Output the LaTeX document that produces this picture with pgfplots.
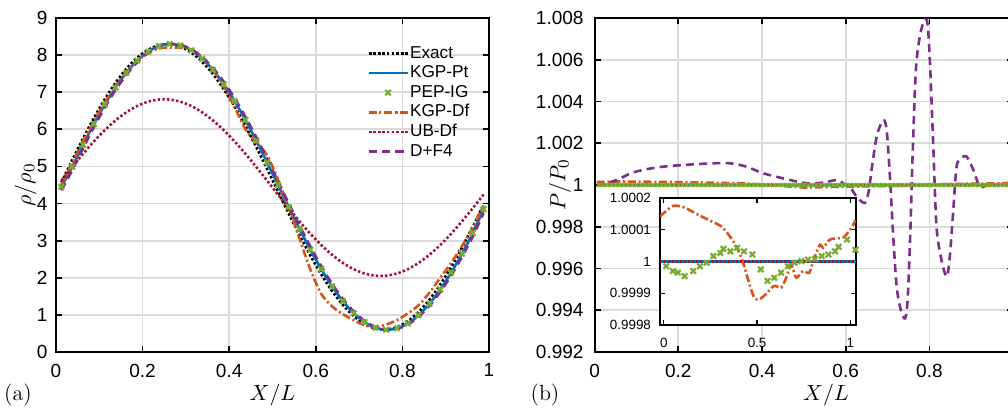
\documentclass[border=0pt]{standalone}
\usepackage{fontspec}
\setsansfont{Liberation Sans}
\usepackage{pgfplots}
\pgfplotsset{compat=1.18}
\usepackage{pgfplotstable}

\definecolor{mblue}{rgb}{0,0.447,0.741}
\definecolor{morange}{rgb}{0.85,0.325,0.098}
\definecolor{mgreen}{rgb}{0.466,0.674,0.188}
\definecolor{mred}{rgb}{0.635,0.078,0.184}
\definecolor{mpurple}{rgb}{0.494,0.184,0.556}
\definecolor{gridgray}{gray}{0.86}

% (a) density, rho/rho0
\pgfplotstableread{
x      exact kgppt kgpdf ubdf  dff4
0.0125 4.571 4.450 4.50  4.617 4.36
0.0375 5.171 4.992 5.10  4.985 4.897
0.0625 5.753 5.582 5.68  5.341 5.490
0.0875 6.303 6.144 6.22  5.674 6.057
0.1125 6.807 6.664 6.72  5.976 6.585
0.1375 7.254 7.129 7.17  6.240 7.060
0.1625 7.631 7.529 7.55  6.459 7.471
0.1875 7.930 7.853 7.85  6.629 7.808
0.2125 8.143 8.092 8.05  6.744 8.061
0.2375 8.266 8.243 8.18  6.803 8.226
0.2625 8.294 8.300 8.20  6.803 8.298
0.2875 8.228 8.262 8.20  6.744 8.276
0.3125 8.069 8.130 8.15  6.629 8.158
0.3375 7.820 7.907 7.95  6.459 7.949
0.3625 7.489 7.600 7.60  6.240 7.655
0.3875 7.083 7.215 7.15  5.976 7.282
0.4125 6.612 6.762 6.60  5.674 6.839
0.4375 6.087 6.251 6.00  5.341 6.336
0.4625 5.523 5.697 5.65  4.985 5.788
0.4875 4.932 5.112 5.30  4.617 5.207
0.5125 4.329 4.510 4.65  4.243 4.606
0.5375 3.730 3.908 3.90  3.875 4.003
0.5625 3.148 3.318 3.05  3.519 3.410
0.5875 2.597 2.756 2.22  3.186 2.843
0.6125 2.093 2.236 1.57  2.884 2.315
0.6375 1.647 1.771 1.23  2.620 1.840
0.6625 1.269 1.371 1.02  2.401 1.429
0.6875 0.970 1.047 0.86  2.231 1.092
0.7125 0.757 0.808 0.72  2.116 0.839
0.7375 0.635 0.657 0.67  2.057 0.674
0.7625 0.606 0.600 0.74  2.057 0.602
0.7875 0.672 0.638 0.86  2.116 0.624
0.8125 0.832 0.770 1.04  2.231 0.742
0.8375 1.080 0.993 1.26  2.401 0.951
0.8625 1.411 1.300 1.60  2.620 1.245
0.8875 1.818 1.685 2.00  2.884 1.618
0.9125 2.288 2.138 2.40  3.186 2.061
0.9375 2.813 2.649 2.85  3.519 2.564
0.9625 3.377 3.203 3.35  3.875 3.107
0.9875 3.968 3.850 3.95  4.243 3.750
}\densitytable

% (b) pressure: values stored as (P/P0 - 1) x 1000 for the main axis
\pgfplotstableread{
x     dev
0.005 0.00
0.013 0.00
0.053 0.24
0.092 0.60
0.148 0.84
0.212 0.96
0.284 1.04
0.324 1.04
0.363 0.88
0.403 0.56
0.467 0.24
0.507 0.08
0.546 0.11
0.578 0.24
0.594 0.08
0.610 -0.10
0.628 -0.60
0.646 -0.86
0.655 -0.30
0.663 0.90
0.675 2.40
0.690 3.11
0.698 2.60
0.706 0.30
0.714 -2.60
0.722 -4.90
0.732 -6.00
0.742 -6.39
0.748 -5.50
0.754 -2.50
0.760 1.50
0.768 5.60
0.780 7.40
0.794 7.90
0.801 6.00
0.809 2.00
0.817 -2.00
0.829 -3.60
0.841 -4.39
0.848 -3.60
0.856 -1.50
0.865 0.88
0.877 1.30
0.889 1.36
0.905 0.72
0.921 -0.08
0.945 0.02
1.000 0.00
}\dftable

% inset: values stored as (P/P0 - 1) x 10000
\pgfplotstableread{
x      dev
-0.020 1.42
0.050  1.75
0.110  1.70
0.185  1.47
0.257  1.26
0.310  1.10
0.348  0.84
0.384  0.53
0.420  0.06
0.457  -0.67
0.484  -1.13
0.510  -1.20
0.547  -1.03
0.590  -0.77
0.630  -0.82
0.656  -0.51
0.683  -0.10
0.710  -0.51
0.746  -0.30
0.780  -0.35
0.810  0.17
0.837  0.53
0.855  0.43
0.890  0.69
0.946  0.74
0.970  0.79
1.010  1.10
1.027  1.30
}\kgpdfinset

\pgfplotstableread{
x      dev
-0.023 0.12
0.013  -0.15
0.049  -0.30
0.076  -0.35
0.112  -0.46
0.158  -0.30
0.194  -0.15
0.230  -0.04
0.266  0.17
0.303  0.27
0.320  0.40
0.357  0.32
0.393  0.43
0.430  0.32
0.475  0.22
0.520  -0.25
0.556  -0.61
0.592  -0.51
0.629  -0.35
0.665  -0.15
0.700  -0.04
0.737  0.01
0.773  0.06
0.810  0.08
0.846  0.17
0.882  0.22
0.918  0.32
0.937  0.46
0.982  0.69
1.027  0.37
}\pepinset

\pgfplotsset{
  base/.style={
    scale only axis,
    axis line style={black, line width=0.9pt},
    major tick style={black, line width=0.9pt},
    major tick length=3pt,
    tick align=inside,
    grid=major,
    major grid style={gridgray, line width=0.9pt},
    ticklabel style={font=\sffamily\fontsize{9.5}{11}\selectfont},
    /pgf/number format/assume math mode=true,
    label style={font=\fontsize{11}{13}\selectfont},
  },
  exactst/.style={black, line width=1.3pt, dash pattern=on 1.2pt off 1.1pt},
  kgpptst/.style={mblue, line width=1.3pt, solid},
  pepst/.style={mgreen, only marks, mark=x, mark size=1.9pt, mark options={line width=1.1pt, solid}},
  kgpdfst/.style={morange, line width=1.3pt, dash pattern=on 4pt off 1.4pt on 1pt off 1.4pt},
  ubdfst/.style={mred, line width=1.3pt, dash pattern=on 1.2pt off 1.1pt},
  dff4st/.style={mpurple, line width=1.3pt, dash pattern=on 4pt off 2.6pt},
}

\begin{document}
\begin{tikzpicture}
\path[use as bounding box] (-28pt,-28pt) rectangle (476pt,176pt);

% ---------------- (a)
\begin{axis}[base,
  at={(0pt,0pt)}, anchor=south west,
  width=216.5pt, height=167pt,
  xmin=0, xmax=1, ymin=0, ymax=9,
  xtick={0,0.2,0.4,0.6,0.8,1}, ytick={0,1,2,3,4,5,6,7,8,9},
  xticklabel style={yshift=-2.4pt}, yticklabel style={xshift=-0.7pt},
  xlabel={$X/L$}, xlabel style={at={(axis description cs:0.5,-0.129)}, anchor=center},
  ylabel={$\rho/\rho_0$}, ylabel style={at={(axis description cs:-0.07,0.5)}, anchor=center},
  legend style={at={(axis description cs:0.718,0.922)}, anchor=north west,
    draw=none, fill=none, inner sep=0pt,
    font=\sffamily\fontsize{8.6}{9}\selectfont, row sep=0.8pt,
    nodes={inner sep=0.6pt, text height=6.2pt, text depth=1.6pt}},
  legend cell align=left,
  legend image code/.code={\draw[mark repeat=2,mark phase=2,#1] plot coordinates {(0pt,0pt) (9.75pt,0pt) (19.5pt,0pt)};},
]
\addplot[exactst, smooth] table[x=x, y=exact] {\densitytable};
\addlegendentry{Exact}
\addplot[kgpptst, smooth] table[x=x, y=kgppt] {\densitytable};
\addlegendentry{KGP-Pt}
\addplot[pepst] table[x=x, y=kgppt] {\densitytable};
\addlegendentry{PEP-IG}
\addplot[kgpdfst, smooth] table[x=x, y=kgpdf] {\densitytable};
\addlegendentry{KGP-Df}
\addplot[ubdfst, smooth] table[x=x, y=ubdf] {\densitytable};
\addlegendentry{UB-Df}
\addplot[dff4st, smooth] table[x=x, y=dff4] {\densitytable};
\addlegendentry{D+F4}
\end{axis}
\node[font=\fontsize{11}{13}\selectfont] at (-19pt,-21.5pt) {(a)};

% ---------------- (b)
\begin{axis}[base,
  at={(269.3pt,0pt)}, anchor=south west,
  width=209.25pt, height=167pt,
  xmin=0, xmax=1, ymin=-8, ymax=8,
  xtick={0,0.2,0.4,0.6,0.8,1},
  xticklabels={0,0.2,0.4,0.6,0.8,{}},
  ytick={-8,-6,-4,-2,0,2,4,6,8},
  yticklabels={0.992,0.994,0.996,0.998,1,1.002,1.004,1.006,1.008},
  xticklabel style={yshift=-2.4pt}, yticklabel style={xshift=-2pt},
  xlabel={$X/L$}, xlabel style={at={(axis description cs:0.553,-0.129)}, anchor=center},
  ylabel={$P/P_0$}, ylabel style={at={(axis description cs:-0.083,0.5)}, anchor=center},
]
\addplot[exactst] coordinates {(0.005,0) (1.0,0)};
\addplot[kgpptst] coordinates {(0.005,0) (1.0,0)};
\addplot[pepst, mark size=1.3pt, mark options={line width=0.9pt}] coordinates {
(0.01,0) (0.02,0) (0.03,0) (0.04,0) (0.05,0) (0.06,0) (0.07,0) (0.08,0) (0.09,0) (0.10,0)
(0.11,0) (0.12,0) (0.13,0) (0.14,0) (0.15,0) (0.16,0) (0.17,0) (0.18,0) (0.19,0) (0.20,0)
(0.21,0) (0.22,0) (0.23,0) (0.24,0) (0.25,0) (0.26,0) (0.27,0) (0.28,0) (0.29,0) (0.30,0)
(0.31,0) (0.32,0) (0.33,0) (0.34,0) (0.35,0) (0.36,0) (0.37,0) (0.38,0) (0.39,0) (0.40,0)
(0.41,0) (0.42,0) (0.43,0) (0.44,0) (0.45,0) (0.46,0) (0.47,0) (0.48,0) (0.49,0) (0.50,0)
(0.51,0) (0.52,0) (0.53,0) (0.54,0) (0.55,0) (0.56,0) (0.57,0) (0.58,0) (0.59,0) (0.60,0)
(0.61,0) (0.62,0) (0.63,0) (0.64,0) (0.65,0) (0.66,0) (0.67,0) (0.68,0) (0.69,0) (0.70,0)
(0.71,0) (0.72,0) (0.73,0) (0.74,0) (0.75,0) (0.76,0) (0.77,0) (0.78,0) (0.79,0) (0.80,0)
(0.81,0) (0.82,0) (0.83,0) (0.84,0) (0.85,0) (0.86,0) (0.87,0) (0.88,0) (0.89,0) (0.90,0)
(0.91,0) (0.92,0) (0.93,0) (0.94,0) (0.95,0) (0.96,0) (0.97,0) (0.98,0) (0.99,0) (1.00,0)};
\addplot[kgpdfst] coordinates {(0.005,0.14) (0.05,0.17) (0.2,0.14) (0.35,0.08) (0.42,0.0) (0.5,-0.12) (0.6,-0.08) (0.75,-0.03) (0.85,0.05) (0.97,0.08) (1.0,0.11)};
\addplot[ubdfst] coordinates {(0.005,0) (1.0,0)};
\addplot[dff4st, smooth, tension=0.5] table[x=x, y=dev] {\dftable};
\end{axis}
\node[font=\fontsize{11}{13}\selectfont] at (244.5pt,-21.5pt) {(b)};

% ---------------- inset
\begin{axis}[
  scale only axis,
  at={(302pt,13.5pt)}, anchor=south west,
  width=98pt, height=63.5pt,
  xmin=-0.02, xmax=1.03, ymin=-2, ymax=2,
  xtick={0,0.5,1}, ytick={-2,-1,0,1,2},
  yticklabels={0.9998,0.9999,1,1.0001,1.0002},
  axis background/.style={fill=white},
  axis line style={black, line width=0.9pt},
  major tick style={black, line width=0.7pt},
  major tick length=2.5pt,
  tick align=inside,
  ticklabel style={font=\sffamily\fontsize{6.7}{8}\selectfont},
  /pgf/number format/assume math mode=true,
  xticklabel style={yshift=-3pt}, yticklabel style={xshift=-1pt},
]
\addplot[exactst] coordinates {(-0.02,0) (1.03,0)};
\addplot[kgpptst] coordinates {(-0.02,0) (1.03,0)};
\addplot[pepst] table[x=x, y=dev] {\pepinset};
\addplot[kgpdfst, smooth, tension=0.4] table[x=x, y=dev] {\kgpdfinset};
\addplot[ubdfst, line width=1.5pt, dash pattern=on 1.2pt off 0.8pt] coordinates {(-0.02,0) (1.03,0)};
\end{axis}
\end{tikzpicture}
\end{document}
